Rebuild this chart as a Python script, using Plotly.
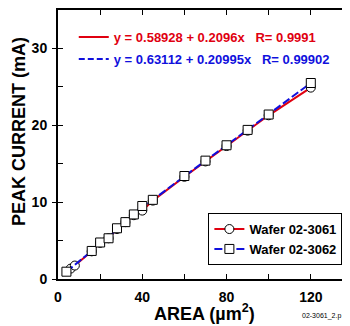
import plotly.graph_objects as go

# Wafer 02-3061 (circles)
area_3061 = [6, 8, 16, 20, 24, 28, 32, 36, 40, 45, 60, 70, 80, 90, 100, 120]
current_3061 = [1.35, 1.75, 3.6, 4.7, 5.3, 6.5, 7.4, 8.3, 8.9, 10.2, 13.3, 15.3, 17.3, 19.3, 21.3, 24.9]
# Wafer 02-3062 (squares)
area_3062 = [4, 16, 20, 24, 28, 32, 36, 40, 45, 60, 70, 80, 90, 100, 120]
current_3062 = [0.95, 3.65, 4.75, 5.3, 6.6, 7.4, 8.4, 9.5, 10.3, 13.4, 15.4, 17.4, 19.4, 21.4, 25.5]

names = ["Wafer 02-3061", "Wafer 02-3062"]
fit_labels = ["y = 0.58928 + 0.2096x   R= 0.9991",
              "y = 0.63112 + 0.20995x   R= 0.99902"]
x_ticks = [0, 40, 80, 120]
y_ticks = [0, 10, 20, 30]

RED = "#e00010"
BLUE = "#1010dd"
FONT = "Liberation Sans, Arial, sans-serif"

fig = go.Figure()

fig.add_trace(go.Scatter(
    x=area_3061, y=current_3061, name=names[0], mode="lines+markers",
    line=dict(color=RED, width=2),
    marker=dict(symbol="circle", size=9, color="white", line=dict(color="black", width=1)),
    legend="legend"))
fig.add_trace(go.Scatter(
    x=area_3062, y=current_3062, name=names[1], mode="lines+markers",
    line=dict(color=BLUE, width=2, dash="8px,3px"),
    marker=dict(symbol="square", size=9, color="white", line=dict(color="black", width=1)),
    legend="legend"))

# fit-equation key entries
fig.add_trace(go.Scatter(
    x=[None], y=[None], mode="lines", line=dict(color=RED, width=2),
    name=f"<span style='color:{RED}'>{fit_labels[0]}</span>", legend="legend2", legendgroup="a"))
fig.add_trace(go.Scatter(
    x=[None], y=[None], mode="lines", line=dict(color=BLUE, width=2, dash="6px,3px"),
    name=f"<span style='color:{BLUE}'>{fit_labels[1]}</span>", legend="legend2", legendgroup="b"))

# helper traces for overlay axes
fig.add_trace(go.Scatter(x=[None], y=[None], yaxis="y2", showlegend=False, hoverinfo="skip"))
fig.add_trace(go.Scatter(x=[None], y=[None], yaxis="y3", showlegend=False, hoverinfo="skip"))

# the page body has an 8px default margin; the figure is sized to fit the 350x326 window
fig.update_layout(
    width=342, height=318,
    margin=dict(l=50, r=0, t=2, b=47),
    paper_bgcolor="white", plot_bgcolor="white",
    font=dict(family=FONT, size=14, color="black"),
    showlegend=True,
    xaxis=dict(
        range=[0, 138.6], tickvals=x_ticks, ticktext=[str(v) for v in x_ticks],
        ticks="inside", ticklen=5, tickwidth=1, tickcolor="black",
        minor=dict(dtick=20, tick0=0, ticks="inside", ticklen=5, tickwidth=1, tickcolor="black"),
        showline=True, linewidth=2, linecolor="black", mirror="allticks",
        showgrid=False, zeroline=False,
        tickfont=dict(family=FONT, size=14, weight="bold"),
        ticklabelstandoff=4,
    ),
    yaxis=dict(
        range=[0, 35], tickvals=y_ticks, ticktext=[str(v) for v in y_ticks],
        ticks="inside", ticklen=5, tickwidth=1, tickcolor="black",
        minor=dict(dtick=5, tick0=0, ticks="inside", ticklen=5, tickwidth=1, tickcolor="black"),
        showline=True, linewidth=2, linecolor="black", mirror=False,
        showgrid=False, zeroline=False,
        tickfont=dict(family=FONT, size=14, weight="bold"),
        ticklabelstandoff=6,
    ),
    yaxis2=dict(
        overlaying="y", side="right", anchor="x", range=[0, 35], dtick=5, tick0=0,
        ticks="inside", ticklen=2, tickwidth=1, tickcolor="black",
        showline=False, showgrid=False, zeroline=False, showticklabels=False,
    ),
    yaxis3=dict(
        overlaying="y", side="left", anchor="x", range=[0, 35], dtick=10, tick0=0,
        ticks="outside", ticklen=5, tickwidth=1, tickcolor="black",
        showline=False, showgrid=False, zeroline=False, showticklabels=False,
    ),
    legend=dict(
        x=0.515, y=0.245, xanchor="left", yanchor="top",
        bgcolor="white", bordercolor="black", borderwidth=1,
        font=dict(family=FONT, size=13, weight="bold"),
        itemwidth=30, tracegroupgap=0,
    ),
    legend2=dict(
        x=0.054, y=0.955, xanchor="left", yanchor="top",
        bgcolor="rgba(0,0,0,0)", borderwidth=0,
        font=dict(family=FONT, size=13, weight="bold"),
        itemwidth=30, tracegroupgap=2, traceorder="grouped",
    ),
    shapes=[dict(type="rect", xref="paper", yref="paper",
                 x0=0.535, x1=0.982, y0=0.066, y1=0.234,
                 fillcolor="black", line=dict(width=0), layer="above")],
    annotations=[
        dict(text="AREA (µm<sup>2</sup>)", xref="paper", yref="paper", x=0.5, y=-0.125,
             xanchor="center", yanchor="middle", showarrow=False,
             font=dict(family=FONT, size=18, weight="bold")),
        dict(text="PEAK CURRENT (mA)", xref="paper", yref="paper", x=-0.134, y=0.55,
             xanchor="center", yanchor="middle", textangle=-90, showarrow=False,
             font=dict(family=FONT, size=18, weight="bold")),
        dict(text="02-3061_2.p", xref="paper", yref="paper", x=0.83, y=-0.138,
             xanchor="left", yanchor="middle", showarrow=False,
             font=dict(family=FONT, size=7)),
    ],
)

fig.write_html("out.html")
